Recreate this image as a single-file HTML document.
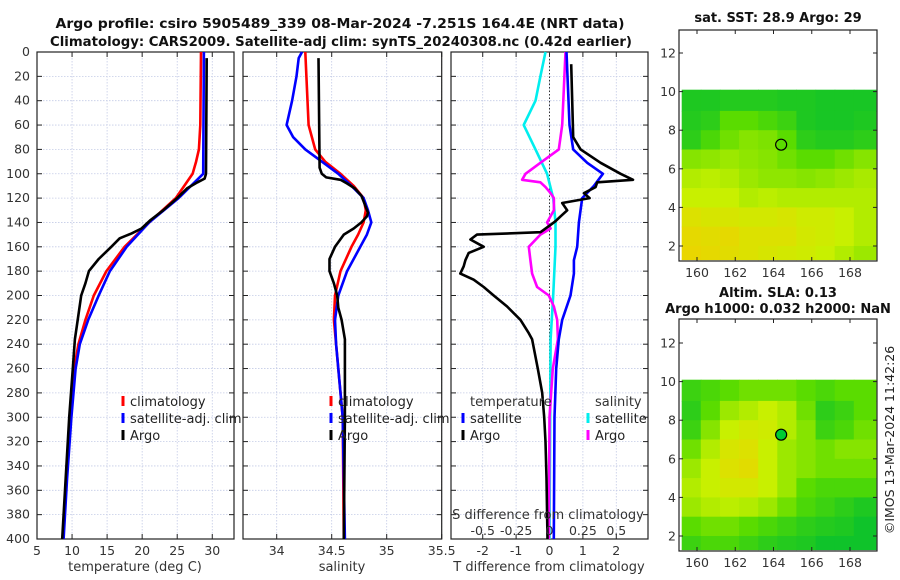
<!DOCTYPE html>
<html><head><meta charset="utf-8"><style>
body{margin:0;background:#fff;}
svg{display:block;font-family:"DejaVu Sans","Liberation Sans",sans-serif;}
</style></head><body>
<svg id="fig" width="900" height="580" viewBox="0 0 900 580" xmlns="http://www.w3.org/2000/svg">
<text x="340" y="28" text-anchor="middle" font-weight="bold" font-size="13" textLength="569" lengthAdjust="spacingAndGlyphs" fill="#111">Argo profile: csiro 5905489_339 08-Mar-2024 -7.251S 164.4E (NRT data)</text>
<text x="341" y="46" text-anchor="middle" font-weight="bold" font-size="13" textLength="582" lengthAdjust="spacingAndGlyphs" fill="#111">Climatology: CARS2009. Satellite-adj clim: synTS_20240308.nc (0.42d earlier)</text>
<text x="778" y="22" text-anchor="middle" font-weight="bold" font-size="13" fill="#111">sat. SST: 28.9 Argo: 29</text>
<text x="778" y="297" text-anchor="middle" font-weight="bold" font-size="13" fill="#111">Altim. SLA: 0.13</text>
<text x="778" y="313" text-anchor="middle" font-weight="bold" font-size="13" fill="#111">Argo h1000: 0.032 h2000: NaN</text>
<text transform="translate(894,440) rotate(-90)" text-anchor="middle" font-size="12.5" fill="#222">©IMOS 13-Mar-2024 11:42:26</text>
</svg>
<script>
// ---------- profile data ----------
const depthTicks=[0,20,40,60,80,100,120,140,160,180,200,220,240,260,280,300,320,340,360,380,400];
const tempTicks=[5,10,15,20,25,30];
const salTicks=[34,34.5,35,35.5];
const salTickLabels=["34","34.5","35","35.5"];
const tdiffTicks=[-2,-1,0,1,2];
const sdiffTicks=[-0.5,-0.25,0,0.25,0.5];
const sdiffTickLabels=["-0.5","-0.25","0","0.25","0.5"];

const climTempDepth=[0,60,80,90,100,120,140,160,180,200,220,240,260,300,350,400];
const climTemp=[28.4,28.3,28.1,27.7,27.2,24.8,21.0,17.5,14.9,13.1,11.9,10.9,10.3,9.7,9.2,8.7];
const satTempDepth=[0,100,120,140,160,180,200,220,240,260,300,350,400];
const satTemp=[28.8,28.7,25.2,21.0,17.8,15.4,13.8,12.3,11.1,10.5,9.9,9.3,8.8];
const argoTempDepth=[5,100,104,107,112,120,130,138,145,149,153,160,170,180,190,200,220,236,260,300,350,400];
const argoTemp=[29.2,29.1,28.9,27.9,26.4,25.0,23.0,21.2,19.9,18.5,16.8,15.6,13.8,12.4,11.9,11.3,10.8,10.4,10.1,9.6,9.1,8.6];

const climSalDepth=[0,40,60,80,90,100,110,120,130,140,150,160,180,200,220,240,300,400];
const climSal=[34.26,34.28,34.29,34.35,34.44,34.58,34.70,34.79,34.81,34.79,34.74,34.68,34.58,34.53,34.52,34.54,34.60,34.61];
const satSalDepth=[0,5,20,40,60,70,80,90,100,110,120,130,140,150,160,180,200,220,240,300,400];
const satSal=[34.23,34.20,34.18,34.14,34.09,34.15,34.26,34.41,34.56,34.68,34.79,34.83,34.86,34.82,34.76,34.64,34.56,34.53,34.54,34.60,34.62];
const argoSalDepth=[5,95,100,103,105,108,112,118,125,132,135,140,145,150,160,170,180,190,200,210,220,236,300,400];
const argoSal=[34.38,34.39,34.41,34.45,34.58,34.64,34.71,34.77,34.80,34.83,34.82,34.77,34.70,34.61,34.53,34.48,34.48,34.52,34.55,34.56,34.59,34.62,34.62,34.61];

const argoTdiffDepth=[10,70,80,91,100,105,107,111,116,120,124,130,135,139,141,148,150,154,160,165,171,176,182,187,193,200,209,220,231,236,260,280,300,320,350,400];
const argoTdiff=[0.65,0.71,0.93,1.53,2.13,2.5,1.43,1.38,1.03,1.2,0.38,0.53,0.33,0.18,0.08,-0.27,-2.17,-2.37,-1.97,-2.42,-2.52,-2.57,-2.67,-2.27,-1.97,-1.67,-1.27,-0.87,-0.62,-0.52,-0.35,-0.22,-0.16,-0.12,-0.09,-0.06];
const satTdiffDepth=[0,60,80,91,100,110,120,140,160,171,182,200,220,236,260,300,400];
const satTdiff=[0.51,0.6,0.71,1.13,1.6,1.33,0.98,0.88,0.83,0.73,0.73,0.63,0.38,0.28,0.2,0.15,0.13];
const satSdiffDepth=[0,20,40,60,80,100,120,140,160,200,236,300,400];
const satSdiff=[-0.03,-0.068,-0.105,-0.193,-0.105,-0.018,0.028,0.045,0.045,0.028,0.008,0.005,0.0];
const argoSdiffDepth=[0,60,80,91,100,105,107,111,116,120,130,140,145,150,160,171,182,193,200,209,220,236,260,300,400];
const argoSdiff=[0.12,0.095,0.07,-0.068,-0.18,-0.205,-0.068,-0.03,0.008,0.033,0.033,-0.018,0.008,-0.068,-0.155,-0.143,-0.13,-0.093,-0.005,0.033,0.058,0.063,0.025,0.0,-0.005];

// ---------- map data (rows lat 10 -> 1.3, cols lon 159.2 -> 169.35) ----------
const mapLonTicks=[160,162,164,166,168];
const mapLatTicks=[2,4,6,8,10,12];
const sstGrid=[
[0.1,0.1,0.12,0.12,0.12,0.1,0.1,0.08,0.08,0.08],
[0.12,0.15,0.3,0.3,0.25,0.2,0.1,0.08,0.08,0.1],
[0.15,0.25,0.35,0.4,0.38,0.3,0.15,0.12,0.12,0.15],
[0.4,0.42,0.45,0.42,0.4,0.35,0.3,0.3,0.35,0.4],
[0.5,0.52,0.5,0.45,0.42,0.42,0.4,0.42,0.45,0.48],
[0.55,0.55,0.55,0.5,0.52,0.5,0.5,0.5,0.5,0.5],
[0.65,0.62,0.62,0.6,0.6,0.62,0.58,0.58,0.55,0.5],
[0.7,0.68,0.7,0.65,0.65,0.65,0.6,0.58,0.55,0.5],
[0.72,0.7,0.68,0.65,0.62,0.6,0.58,0.55,0.5,0.45]];
const slaGrid=[
[0.2,0.25,0.3,0.35,0.35,0.35,0.3,0.25,0.3,0.3],
[0.15,0.3,0.45,0.5,0.55,0.5,0.35,0.15,0.2,0.3],
[0.2,0.4,0.55,0.6,0.58,0.5,0.4,0.2,0.25,0.35],
[0.35,0.5,0.62,0.65,0.55,0.45,0.4,0.35,0.4,0.4],
[0.45,0.55,0.65,0.68,0.55,0.45,0.4,0.35,0.35,0.35],
[0.5,0.55,0.6,0.6,0.55,0.45,0.3,0.25,0.25,0.25],
[0.45,0.5,0.52,0.5,0.45,0.35,0.25,0.2,0.15,0.1],
[0.3,0.35,0.35,0.3,0.25,0.2,0.15,0.12,0.1,0.05],
[0.2,0.25,0.25,0.2,0.15,0.12,0.1,0.05,0.05,0.05]];
const gridLatEdges=[10.1,9,8,7,6,5,4,3,2,1.3];
const gridLonEdges=[159.2,160.2,161.2,162.2,163.2,164.2,165.2,166.2,167.2,168.2,169.35];
const argoLon=164.4, argoLat=7.25;

// ---------- drawing ----------
const svg=document.getElementById('fig');
const NS='http://www.w3.org/2000/svg';
function mk(tag,attrs,parent){const e=document.createElementNS(NS,tag);for(const k in attrs)e.setAttribute(k,attrs[k]);(parent||svg).appendChild(e);return e;}
const Y0=52,Y1=539;
const yDepth=d=>Y0+(d/400)*(Y1-Y0);
function linScale(d0,d1,r0,r1){return v=>r0+(v-d0)/(d1-d0)*(r1-r0);}

function panel(name,x0,x1,xs,xt,xlabels,gridX){
  const g=mk('g',{});
  
  
  const gg=mk('g',{},g);
  
  
  depthTicks.forEach(d=>{const l=mk('line',{x1:x0,x2:x1,y1:yDepth(d),y2:yDepth(d),stroke:'#c4cbe6','stroke-width':0.8,'stroke-dasharray':'1.5,1.5'},gg);});
  gridX.forEach(v=>{mk('line',{x1:xs(v),x2:xs(v),y1:Y0,y2:Y1,stroke:'#c4cbe6','stroke-width':0.8,'stroke-dasharray':'1.5,1.5'},gg);});
  depthTicks.forEach(d=>{const y=yDepth(d);mk('line',{x1:x0,x2:x0+5,y1:y,y2:y,stroke:'#222'},g);mk('line',{x1:x1-5,x2:x1,y1:y,y2:y,stroke:'#222'},g);});
  xt.forEach((v,i)=>{const x=xs(v);mk('line',{x1:x,x2:x,y1:Y1,y2:Y1-5,stroke:'#222'},g);mk('line',{x1:x,x2:x,y1:Y0,y2:Y0+5,stroke:'#222'},g);
    const t=mk('text',{x:x,y:Y1+16,'text-anchor':'middle','font-size':12.5,fill:'#333'},g);t.textContent=xlabels[i];
    
    });
  const b=mk('rect',{x:x0,y:Y0,width:x1-x0,height:Y1-Y0,fill:'none',stroke:'#222','stroke-width':1.2},g);
  
  
  return g;
}
function line(g,depths,vals,xs,color,name){
  const p=depths.map((d,i)=>xs(vals[i]).toFixed(1)+','+yDepth(d).toFixed(1)).join(' ');
  const e=mk('polyline',{points:p,fill:'none',stroke:color,'stroke-width':2.6,'stroke-linejoin':'round'},g);
  
  
}
function legend(g,x,y,color,label,name){
  const m=mk('line',{x1:x,x2:x,y1:y-10,y2:y,stroke:color,'stroke-width':3},g);
  const t=mk('text',{x:x+7,y:y,'font-size':13,fill:'#222'},g);t.textContent=label;
  
  
}
function txt(x,y,s,name,anchor,size){const t=mk('text',{x:x,y:y,'text-anchor':anchor||'middle','font-size':size||13,fill:'#333'});t.textContent=s;
  
  return t;}

// panel 1 temperature
const xT=linScale(5,33.1,37,234);
const g1=panel('temperature',37,234,xT,tempTicks,tempTicks.map(String),tempTicks);
depthTicks.forEach(d=>{const t=mk('text',{x:30,y:yDepth(d)+4,'text-anchor':'end','font-size':12.5,fill:'#333'});t.textContent=d;
  
  });
line(g1,climTempDepth,climTemp,xT,'#ff0000','climatology-temp-line');
line(g1,satTempDepth,satTemp,xT,'#0000ff','satellite-temp-line');
line(g1,argoTempDepth,argoTemp,xT,'#000000','argo-temp-line');
legend(g1,123,406,'#ff0000','climatology','legend-climatology');
legend(g1,123,423,'#0000ff','satellite-adj. clim','legend-satellite-adj');
legend(g1,123,440,'#000000','Argo','legend-argo');
txt(135,571,'temperature (deg C)','temperature-axis-title');

// panel 2 salinity
const xS=linScale(34,35.5,276.7,441.7);
const g2=panel('salinity',243,441.7,xS,salTicks,salTickLabels,salTicks);
line(g2,climSalDepth,climSal,xS,'#ff0000','climatology-salinity-line');
line(g2,satSalDepth,satSal,xS,'#0000ff','satellite-salinity-line');
line(g2,argoSalDepth,argoSal,xS,'#000000','argo-salinity-line');
legend(g2,331,406,'#ff0000','climatology','legend-climatology-2');
legend(g2,331,423,'#0000ff','satellite-adj. clim','legend-satellite-adj-2');
legend(g2,331,440,'#000000','Argo','legend-argo-2');
txt(342,571,'salinity','salinity-axis-title');

// panel 3 differences
const xD=linScale(-2.95,2.95,451,648);
const xSd=v=>xD(v*4);
const g3=panel('difference',451,648,xD,tdiffTicks,tdiffTicks.map(String),tdiffTicks);
const zl=mk('line',{x1:xD(0),x2:xD(0),y1:Y0,y2:Y1,stroke:'#333','stroke-width':1,'stroke-dasharray':'1.5,2'},g3);


line(g3,satSdiffDepth,satSdiff,xSd,'#00eeee','satellite-salinity-diff-line');
line(g3,argoSdiffDepth,argoSdiff,xSd,'#ff00ff','argo-salinity-diff-line');
line(g3,satTdiffDepth,satTdiff,xD,'#0000ff','satellite-temp-diff-line');
line(g3,argoTdiffDepth,argoTdiff,xD,'#000000','argo-temp-diff-line');
txt(470,406,'temperature','legend-temperature-header','start');
legend(g3,463,423,'#0000ff','satellite','legend-temp-satellite');
legend(g3,463,440,'#000000','Argo','legend-temp-argo');
txt(595,406,'salinity','legend-salinity-header','start');
legend(g3,588,423,'#00eeee','satellite','legend-sal-satellite');
legend(g3,588,440,'#ff00ff','Argo','legend-sal-argo');
txt(548,519,'S difference from climatology','s-difference-axis-title');
sdiffTicks.forEach((v,i)=>txt(xSd(v),535,sdiffTickLabels[i],'s-difference-tick-label','middle',12.5));
txt(549,571,'T difference from climatology','t-difference-axis-title');

// maps
function cmap(t){
  const stops=[[0,[0,190,50]],[0.3,[90,220,0]],[0.55,[200,240,0]],[0.78,[245,205,0]]];
  if(t<=0)return 'rgb(0,190,50)';
  for(let i=1;i<stops.length;i++){if(t<=stops[i][0]){const a=stops[i-1],b=stops[i],f=(t-a[0])/(b[0]-a[0]);
    return 'rgb('+a[1].map((c,k)=>Math.round(c+(b[1][k]-c)*f)).join(',')+')';}}
  return 'rgb(245,205,0)';
}
function map(name,by0,by1,lat0y,lat1y,grid){
  const bx0=679,bx1=877;
  const xL=linScale(160,168,697,850);
  const yL=linScale(12,2,lat0y,lat1y);
  const g=mk('g',{});
  
  
  grid.forEach((row,r)=>row.forEach((v,c)=>{
    const x=xL(gridLonEdges[c]),x2=xL(gridLonEdges[c+1]),y=yL(gridLatEdges[r]),y2=yL(gridLatEdges[r+1]);
    const cell=mk('rect',{x:x.toFixed(1),y:y.toFixed(1),width:(x2-x+0.6).toFixed(1),height:(y2-y+0.6).toFixed(1),fill:cmap(v)},g);
    
    
  }));
  const m=mk('circle',{cx:xL(argoLon),cy:yL(argoLat),r:5.5,fill:name==='sla'?'#00cc33':'none',stroke:'#000','stroke-width':1.2},g);
  
  
  mapLonTicks.forEach(v=>{const x=xL(v);mk('line',{x1:x,x2:x,y1:by1,y2:by1-4,stroke:'#222'},g);mk('line',{x1:x,x2:x,y1:by0,y2:by0+4,stroke:'#222'},g);
    const t=mk('text',{x:x,y:by1+16,'text-anchor':'middle','font-size':12.5,fill:'#333'},g);t.textContent=v;
    
    });
  mapLatTicks.forEach(v=>{const y=yL(v);mk('line',{x1:bx0,x2:bx0+4,y1:y,y2:y,stroke:'#222'},g);mk('line',{x1:bx1-4,x2:bx1,y1:y,y2:y,stroke:'#222'},g);
    const t=mk('text',{x:bx0-3,y:y+4.5,'text-anchor':'end','font-size':12.5,fill:'#333'},g);t.textContent=v;
    
    });
  const f=mk('rect',{x:bx0,y:by0,width:bx1-bx0,height:by1-by0,fill:'none',stroke:'#222','stroke-width':1.2},g);
  
  
}
map('sst',30,261,53,246,sstGrid);
map('sla',319,551,343,536,slaGrid);
</script>
</body></html>
